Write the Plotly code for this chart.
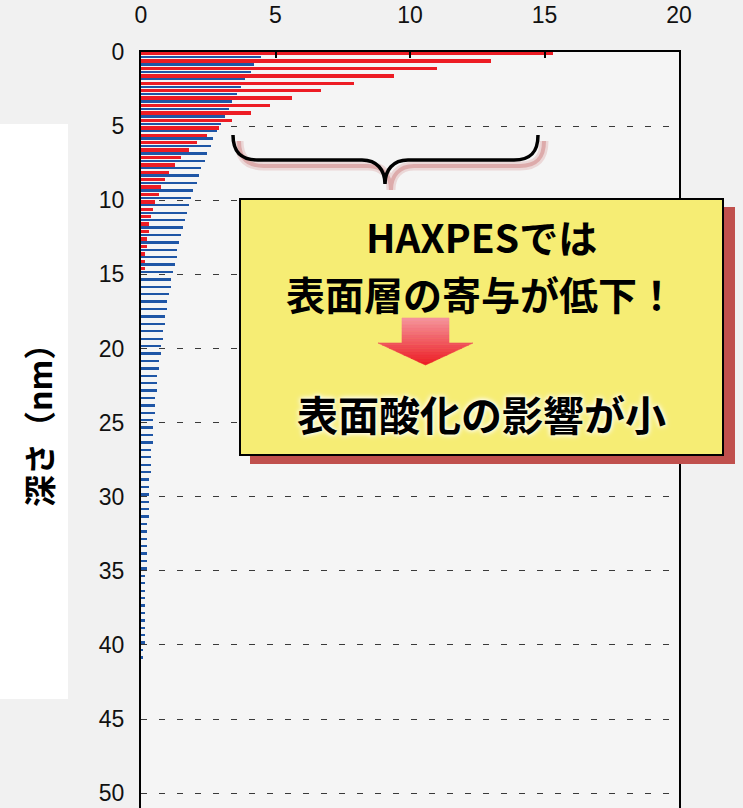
import plotly.graph_objects as go

# ---------------- data ----------------
red_depth = [0.0, 0.5, 1.0, 1.5, 2.0, 2.5, 3.0, 3.5, 4.0, 4.5,
             5.0, 5.5, 6.0, 6.5, 7.0, 7.5, 8.0, 8.5, 9.0, 9.5,
             10.0, 10.5, 11.0, 11.5, 12.0, 12.5, 13.0, 13.5, 14.0, 14.5]
red_values = [15.3, 13.0, 11.0, 9.4, 7.9, 6.7, 5.6, 4.8, 4.1, 3.4,
              2.9, 2.44, 2.07, 1.77, 1.47, 1.25, 1.03, 0.88, 0.73, 0.66,
              0.51, 0.44, 0.36, 0.29, 0.29, 0.21, 0.21, 0.14, 0.14, 0.14]

blue_depth = [0.0, 0.5, 1.0, 1.5, 2.0, 2.5, 3.0, 3.5, 4.0, 4.5,
              5.0, 5.5, 6.0, 6.5, 7.0, 7.5, 8.0, 8.5, 9.0, 9.5,
              10.0, 10.5, 11.0, 11.5, 12.0, 12.5, 13.0, 13.5, 14.0, 14.5,
              15.0, 15.5, 16.0, 16.5, 17.0, 17.5, 18.0, 18.5, 19.0, 19.5,
              20.0, 20.5, 21.0, 21.5, 22.0, 22.5, 23.0, 23.5, 24.0, 24.5,
              25.0, 25.5, 26.0, 26.5, 27.0, 27.5, 28.0, 28.5, 29.0, 29.5,
              30.0, 30.5, 31.0, 31.5, 32.0, 32.5, 33.0, 33.5, 34.0, 34.5,
              35.0, 35.5, 36.0, 36.5, 37.0, 37.5, 38.0, 38.5, 39.0, 39.5,
              40.0, 40.5]
blue_values = [4.46, 4.20, 4.10, 3.87, 3.70, 3.56, 3.40, 3.28, 3.13, 2.96,
               2.81, 2.67, 2.59, 2.44, 2.37, 2.22, 2.14, 2.07, 1.92, 1.84,
               1.77, 1.70, 1.62, 1.55, 1.47, 1.40, 1.33, 1.33, 1.25, 1.18,
               1.10, 1.10, 1.03, 0.95, 0.95, 0.88, 0.88, 0.81, 0.81, 0.73,
               0.73, 0.66, 0.66, 0.58, 0.58, 0.58, 0.51, 0.51, 0.51, 0.44,
               0.44, 0.44, 0.44, 0.36, 0.36, 0.36, 0.36, 0.29, 0.29, 0.29,
               0.29, 0.29, 0.29, 0.21, 0.21, 0.21, 0.21, 0.21, 0.21, 0.21,
               0.14, 0.14, 0.14, 0.14, 0.14, 0.14, 0.14, 0.14, 0.14, 0.14,
               0.07, 0.07]

x_ticks = [0, 5, 10, 15, 20]
y_ticks = [0, 5, 10, 15, 20, 25, 30, 35, 40, 45, 50]

y_title = "深さ（nm）"
box_line1 = "HAXPESでは"
box_line2 = "表面層の寄与が低下！"
box_line3 = "表面酸化の影響が小"

# ---------------- layout geometry ----------------
W, H = 743, 808
L, R, T, B = 141, 64, 52, 0
PW, PH = W - L - R, H - T - B


def px(x):
    return (x - L) / PW


def py(y):
    return (H - B - y) / PH


tick_font = dict(family="Liberation Sans Narrow, Arial Narrow, Liberation Sans, Arial",
                 size=23, color="#111")
jp = "Noto Sans CJK JP"

fig = go.Figure()
fig.add_trace(go.Bar(x=red_values, y=red_depth, orientation="h",
                     marker=dict(color="#ed1c24", line=dict(width=0)),
                     width=0.23, offset=0.0, hoverinfo="skip"))
fig.add_trace(go.Bar(x=blue_values, y=blue_depth, orientation="h",
                     marker=dict(color="#1f56a6", line=dict(width=0)),
                     width=0.16, offset=0.26, hoverinfo="skip"))

shapes = []
# white panel behind y title
shapes.append(dict(type="rect", xref="paper", yref="paper",
                   x0=px(-5), x1=px(68), y0=py(124), y1=py(699),
                   fillcolor="white", line=dict(width=0), layer="below"))


def brace_path(dx=0, dy=0):
    def P(x, y):
        return f"{px(x + dx):.5f},{py(y + dy):.5f}"
    return (f"M {P(233,135)} C {P(233,153)} {P(242,160)} {P(258,160)} "
            f"L {P(362,160)} C {P(377,160)} {P(385,170)} {P(385,184)} "
            f"C {P(385,170)} {P(393,160)} {P(408,160)} "
            f"L {P(514,160)} C {P(530,160)} {P(538,153)} {P(538,135)}")


shapes.append(dict(type="path", xref="paper", yref="paper", path=brace_path(6, 6),
                   line=dict(color="rgba(200,110,110,0.22)", width=9)))
shapes.append(dict(type="path", xref="paper", yref="paper", path=brace_path(6, 6),
                   line=dict(color="rgba(196,90,90,0.35)", width=4)))
shapes.append(dict(type="path", xref="paper", yref="paper", path=brace_path(),
                   line=dict(color="black", width=3.5)))

# yellow message box with shadow
shapes.append(dict(type="rect", xref="paper", yref="paper",
                   x0=px(250), x1=px(735), y0=py(464), y1=py(207),
                   fillcolor="#c0504d", line=dict(width=0)))
shapes.append(dict(type="rect", xref="paper", yref="paper",
                   x0=px(240), x1=px(723), y0=py(455), y1=py(199),
                   fillcolor="#f6ed74", line=dict(color="black", width=2)))

# gradient down arrow built from horizontal strips
ax_c, sh_l, sh_r, top, neck, tip, head_half = 425.5, 402, 449, 318, 343, 365, 47.5


def extent(y):
    if y <= neck:
        return sh_l, sh_r
    h = head_half * (tip - y) / (tip - neck)
    return ax_c - h, ax_c + h


n = 14
c0, c1 = (245, 150, 158), (236, 28, 36)
for i in range(n):
    ya = top + (tip - top) * i / n
    yb = top + (tip - top) * (i + 1) / n
    ys = [ya] + ([neck] if ya < neck < yb else []) + [yb]
    left, right = [], []
    for y in ys:
        if y == neck and ya < neck < yb:
            left += [(sh_l, neck), (ax_c - head_half, neck)]
            right += [(sh_r, neck), (ax_c + head_half, neck)]
        else:
            a, b = extent(y)
            left.append((a, y))
            right.append((b, y))
    pts = left + right[::-1]
    d = "M " + " L ".join(f"{px(x):.5f},{py(y):.5f}" for x, y in pts) + " Z"
    t = (i + 0.5) / n
    col = "rgb({},{},{})".format(*[round(c0[k] + (c1[k] - c0[k]) * t) for k in range(3)])
    shapes.append(dict(type="path", xref="paper", yref="paper", path=d,
                       fillcolor=col, line=dict(width=0.6, color=col)))

annotations = [
    dict(text=f"<b>{y_title}</b>", xref="paper", yref="paper", x=px(38), y=py(418),
         textangle=-90, showarrow=False, xanchor="center", yanchor="middle",
         font=dict(family=jp, size=32, color="black")),
    dict(text=f"<b>{box_line1}</b>", xref="paper", yref="paper",
         x=px(481), y=py(236), showarrow=False, xanchor="center", yanchor="middle",
         font=dict(family=jp, size=39, color="black")),
    dict(text=f"<b>{box_line2}</b>", xref="paper", yref="paper",
         x=px(481), y=py(293), showarrow=False, xanchor="center", yanchor="middle",
         font=dict(family=jp, size=39, color="black")),
    dict(text=f"<b>{box_line3}</b>", xref="paper", yref="paper", x=px(481), y=py(413),
         showarrow=False, xanchor="center", yanchor="middle",
         font=dict(family=jp, size=41, color="black",
                   shadow="0px 0px 4px #ffffff, 0px 0px 6px #ffffff")),
]

fig.update_layout(
    width=W, height=H,
    margin=dict(l=L, r=R, t=T, b=B, pad=0),
    paper_bgcolor="#f1f1f1", plot_bgcolor="#f5f5f5",
    barmode="overlay", bargap=0, showlegend=False,
    shapes=shapes, annotations=annotations,
    xaxis=dict(side="top", range=[0, 20], tickvals=x_ticks,
               ticks="inside", ticklen=6, tickwidth=1.5, tickcolor="black",
               showline=True, linecolor="black", linewidth=2,
               showgrid=False, zeroline=False, tickfont=tick_font,
               ticklabelstandoff=18, fixedrange=True),
    yaxis=dict(range=[51.0, 0], tickvals=y_ticks, ticks="",
               showline=True, linecolor="black", linewidth=2, mirror=True,
               showgrid=True, gridcolor="#3a3a3a", gridwidth=1, griddash="6px,12px",
               zeroline=False, tickfont=tick_font, ticklabelstandoff=10,
               fixedrange=True),
)

fig.write_html("out.html", config={"displayModeBar": False},
               post_script="document.body.style.margin='0px';")
